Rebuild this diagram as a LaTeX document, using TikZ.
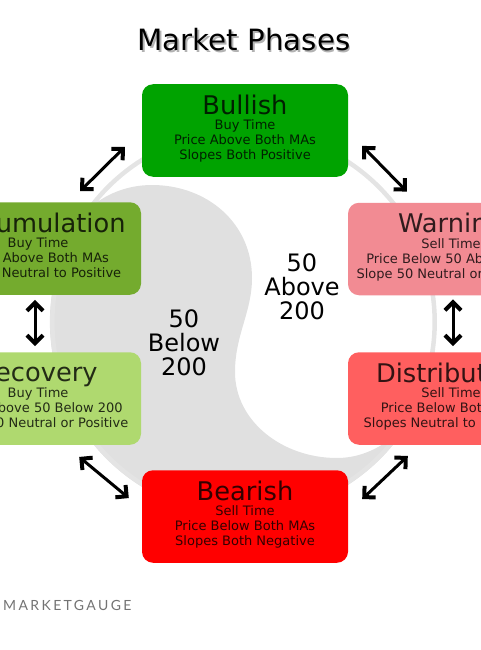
\documentclass[tikz,border=0pt]{standalone}
\usepackage{fontspec}
\usetikzlibrary{arrows.meta,calc}
\setmainfont{DejaVu Sans}
\newfontfamily\logofont[LetterSpace=17]{Lato}
\definecolor{ringgrey}{HTML}{E4E4E4}
\definecolor{lobegrey}{HTML}{E0E0E0}
\definecolor{cbullish}{RGB}{0,163,0}
\definecolor{caccum}{RGB}{116,171,46}
\definecolor{crecovery}{RGB}{175,217,111}
\definecolor{cwarning}{RGB}{242,139,147}
\definecolor{cdistribution}{RGB}{255,95,95}
\definecolor{cbearish}{RGB}{255,0,0}
\newcommand{\phasetext}[2]{{\fontsize{25.7}{28}\selectfont #1}\\[0pt]#2}
\tikzset{
  x=1pt,y=-1pt,
  phase/.style={rectangle,rounded corners=11pt,minimum width=206pt,minimum height=92.5pt,inner sep=0pt,align=center,text depth=6pt,text=black,text opacity=.8,fill=#1,font=\fontsize{13}{15}\selectfont},
  dbl/.style={line width=3pt,black,{Straight Barb[length=8pt,width=16pt,line width=4pt]}-{Straight Barb[length=8pt,width=16pt,line width=4pt]}},
  big/.style={font=\fontsize{24}{24}\selectfont,align=center,text=black}
}
\begin{document}
\begin{tikzpicture}
\useasboundingbox (0,0) rectangle (480,650);
\coordinate (C) at (243.5,322);
\fill[lobegrey] (152,185) .. controls (207,185) and (252,223) .. (252,278)
  .. controls (252,312) and (235,335) .. (235,372)
  .. controls (235,421) and (282,458) .. (337,458)
  .. controls (390,458) and (435,405) .. (435,349)
  arc[start angle=8,end angle=195,radius=193.5]
  .. controls (62,222) and (102,185) .. (152,185) -- cycle;
\draw[ringgrey,line width=4.5pt] (C) circle[radius=191.2];
\node[phase=cbullish] (bullish) at (245,130.5) {\phasetext{Bullish}{Buy Time\\Price Above Both MAs\\Slopes Both Positive}};
\node[phase=caccum] (accum) at (38,248.5) {\phasetext{Accumulation}{Buy Time\\Price Above Both MAs\\Slopes Neutral to Positive}};
\node[phase=crecovery] (recovery) at (38,398.5) {\phasetext{Recovery}{Buy Time\\Price Above 50 Below 200\\Slope 50 Neutral or Positive}};
\node[phase=cwarning] (warning) at (451,249) {\phasetext{Warning}{Sell Time\\Price Below 50 Above 200\\Slope 50 Neutral or Negative}};
\node[phase=cdistribution] (distribution) at (451,398.5) {\phasetext{Distribution}{Sell Time\\Price Below Both MAs\\Slopes Neutral to Negative}};
\node[phase=cbearish] (bearish) at (245,516.5) {\phasetext{Bearish}{Sell Time\\Price Below Both MAs\\Slopes Both Negative}};
\node[font=\fontsize{29.3}{31}\selectfont,text=black,opacity=.3] (titleshadow) at (245.5,42) {Market Phases};
\node[font=\fontsize{29.3}{31}\selectfont,text=black] (title) at (244,40) {Market Phases};
\node[big] (below) at (184,343) {50\\Below\\200};
\node[big] (above) at (302,287) {50\\Above\\200};
\node[anchor=west,inner sep=0pt,text=black!55,font=\logofont\fontsize{14}{16}\selectfont] (logo) at (3,605) {MARKETGAUGE};
\draw[dbl] ($(bullish.south west)+(-17,-30)$) -- ($(accum.north east)+(-61,-11)$);
\draw[dbl] ($(bullish.south east)+(14,-31)$) -- ($(warning.north west)+(59,-11)$);
\draw[dbl] ($(accum.south)+(-3,5)$) -- ($(recovery.north)+(-3,-6)$);
\draw[dbl] ($(warning.south)+(2,4)$) -- ($(distribution.north)+(2,-6)$);
\draw[dbl] ($(recovery.south east)+(-62,12)$) -- ($(bearish.north west)+(-13,28)$);
\draw[dbl] ($(distribution.south west)+(60,11)$) -- ($(bearish.north east)+(14,29)$);
\end{tikzpicture}
\end{document}
